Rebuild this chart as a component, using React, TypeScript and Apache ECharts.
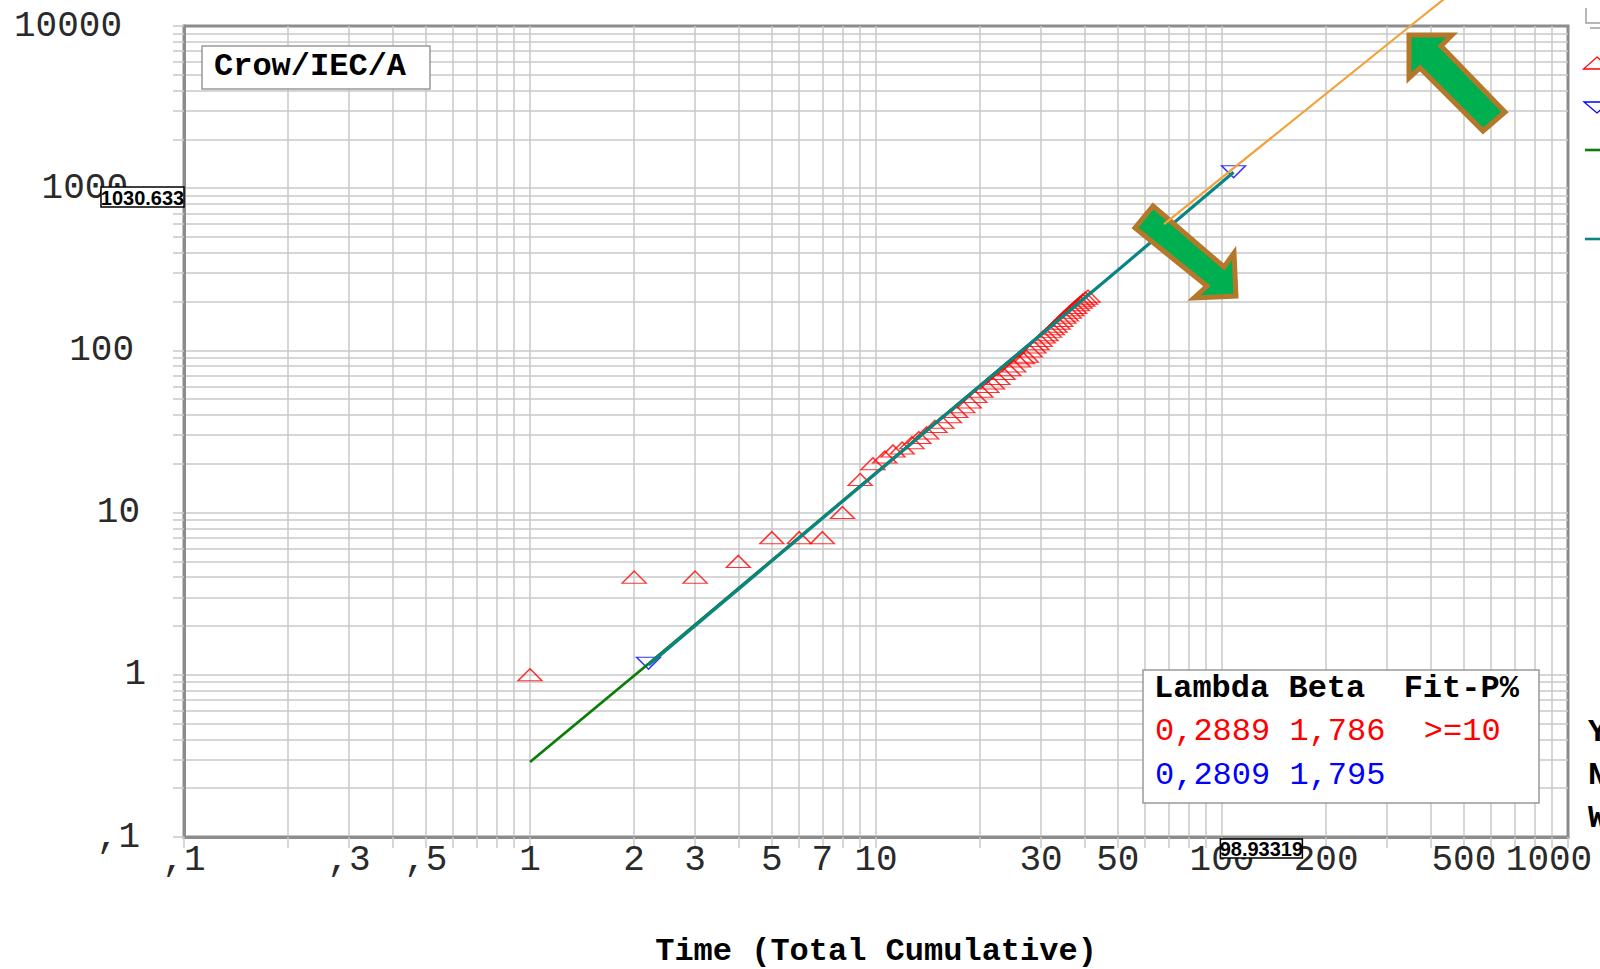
import React, { useEffect, useRef } from 'react';
import * as echarts from 'echarts';

// ---------- axis / tick data ----------
const xGridValues = [0.1, 0.2, 0.3, 0.4, 0.5, 0.6, 0.7, 0.8, 0.9, 1, 2, 3, 4, 5, 6, 7, 8, 9, 10, 20, 30, 40, 50, 60, 70, 80, 90, 100, 200, 300, 400, 500, 600, 700, 800, 900, 1000];
const yGridValues = [0.1, 0.2, 0.3, 0.4, 0.5, 0.6, 0.7, 0.8, 0.9, 1, 2, 3, 4, 5, 6, 7, 8, 9, 10, 20, 30, 40, 50, 60, 70, 80, 90, 100, 200, 300, 400, 500, 600, 700, 800, 900, 1000, 2000, 3000, 4000, 5000, 6000, 7000, 8000, 9000, 10000];
const xLabelValues = [0.1, 0.3, 0.5, 1, 2, 3, 5, 7, 10, 30, 50, 100, 200, 500, 1000];
const xLabelTexts = [',1', ',3', ',5', '1', '2', '3', '5', '7', '10', '30', '50', '100', '200', '500', '1000'];
const yLabelValues = [0.1, 1, 10, 100, 1000, 10000];
const yLabelTexts = [',1', '1', '10', '100', '1000', '10000'];
const xAxisTitle = 'Time (Total Cumulative)';

// ---------- series data ----------
const redTimes = [1, 2, 3, 4, 5, 6, 7, 8, 9.0, 9.8, 10.6, 11.2, 11.9, 12.7, 13.3, 14.0, 14.8, 15.5, 16.3, 17.0, 17.8, 18.6, 19.3, 20.1, 20.9, 21.7, 22.5, 23.3, 24.2, 25.0, 25.8, 26.5, 27.2, 27.9, 28.6, 29.2, 29.8, 30.4, 31.0, 31.7, 32.3, 32.9, 33.6, 34.2, 34.9, 35.5, 36.2, 36.8, 37.5, 38.2, 38.9, 39.6, 40.3, 41.0];
const redCounts = [1, 4, 4, 5, 7, 7, 7, 10, 16, 20, 22, 24, 25, 27, 29, 31, 34, 36, 39, 42, 45, 48, 52, 56, 60, 63, 67, 72, 76, 80, 86, 90, 92, 99, 105, 110, 115, 121, 125, 131, 136, 141, 147, 153, 160, 165, 172, 178, 184, 191, 198, 204, 210, 216];
const blueTimes = [2.2, 108];
const blueCounts = [1.18, 1265];
const greenTimes = [1, 2.2, 10, 42];
const greenCounts = [0.29, 1.17, 17.6, 230];
const tealTimes = [2.2, 10, 50, 108];
const tealCounts = [1.15, 17.5, 312, 1255];
const orangeTimes = [68, 350, 600];
const orangeCounts = [600, 10000, 25000];
const readoutX = 98.93319;
const readoutY = 1030.633;

// ---------- texts ----------
const boxTitle = 'Crow/IEC/A';
const statsHeader = 'Lambda Beta  Fit-P%';
const statsRed = '0,2889 1,786  >=10';
const statsBlue = '0,2809 1,795';
const cutTexts = ['Y', 'N', 'W'];

const zip = (a: number[], b: number[]) => a.map((v, i) => [v, b[i]]);
const findLabel = (vals: number[], texts: string[], v: number) => {
  const i = vals.findIndex((u) => Math.abs(Math.log10(u) - Math.log10(v)) < 1e-6);
  return i >= 0 ? texts[i] : '';
};

const MONO = '"Liberation Mono", "DejaVu Sans Mono", monospace';
const GRID_COLOR = '#c8c8c8';
const BORDER_COLOR = '#8c8c8c';
const LABEL_COLOR = '#2a2a2a';

const labelRich = (pads: number[][]) => {
  const rich: any = {};
  pads.forEach((p, i) => {
    rich['s' + i] = { fontFamily: MONO, fontSize: 36, color: LABEL_COLOR, padding: p };
  });
  return rich;
};

export default function App() {
  const ref = useRef<HTMLDivElement>(null);
  useEffect(() => {
    if (!ref.current) return;
    const chart = echarts.init(ref.current, null, { renderer: 'svg' });
    const arrowStyle = { fill: '#00b050', stroke: '#b5782b', lineWidth: 5, lineJoin: 'miter' };
    const option: any = {
      animation: false,
      backgroundColor: '#ffffff',
      grid: {
        left: 184, top: 26, width: 1384, height: 811,
        show: true, borderColor: BORDER_COLOR, borderWidth: 3,
        backgroundColor: 'rgba(0,0,0,0)', containLabel: false, outerBoundsMode: 'none',
      },
      xAxis: {
        type: 'log', logBase: 10, min: 0.1, max: 1000,
        axisLine: { show: true, onZero: false, lineStyle: { color: BORDER_COLOR, width: 3 } },
        axisTick: { show: true, inside: false, length: 11, customValues: xGridValues, lineStyle: { color: GRID_COLOR, width: 1.5 } },
        axisLabel: {
          show: true, customValues: xLabelValues,
          formatter: (v: number) => {
            const t = findLabel(xLabelValues, xLabelTexts, v);
            return v >= 999 ? `{s1|${t}}` : `{s0|${t}}`;
          },
          rich: labelRich([[0, 0, 0, 0], [0, 38, 0, 0]]),
          margin: 5, fontFamily: MONO, fontSize: 36, color: LABEL_COLOR,
        },
        splitLine: { show: true, showMinLine: false, showMaxLine: false, lineStyle: { color: GRID_COLOR, width: 1.5 } },
        name: xAxisTitle, nameLocation: 'middle', nameGap: 98,
        nameTextStyle: { fontFamily: MONO, fontWeight: 'bold', fontSize: 32, color: '#000' },
      },
      yAxis: {
        type: 'log', logBase: 10, min: 0.1, max: 10000,
        axisLine: { show: true, onZero: false, lineStyle: { color: BORDER_COLOR, width: 3 } },
        axisTick: { show: true, inside: false, length: 11, customValues: yGridValues, lineStyle: { color: GRID_COLOR, width: 1.5 } },
        axisLabel: {
          show: true, customValues: yLabelValues,
          formatter: (v: number) => {
            const t = findLabel(yLabelValues, yLabelTexts, v);
            return `{s${t.length - 1}|${t}}`;
          },
          rich: labelRich([[0, 0, 0, 0], [0, 6, 0, 0], [0, 12, 0, 0], [0, 18, 0, 0], [0, 24, 0, 0]]),
          margin: 38, fontFamily: MONO, fontSize: 36, color: LABEL_COLOR,
        },
        splitLine: { show: true, showMinLine: false, showMaxLine: false, lineStyle: { color: GRID_COLOR, width: 1.5 } },
      },
      series: [
        {
          type: 'scatter', name: 'Observed', data: zip(redTimes, redCounts), z: 2,
          symbol: 'triangle', symbolSize: [24, 12],
          itemStyle: { color: 'rgba(0,0,0,0)', borderColor: '#ff0000', borderWidth: 1.4 },
        },
        {
          type: 'scatter', name: 'Expected', data: zip(blueTimes, blueCounts), z: 2,
          symbol: 'triangle', symbolRotate: 180, symbolSize: [24, 12],
          itemStyle: { color: 'rgba(0,0,0,0)', borderColor: '#0000ff', borderWidth: 1.4 },
        },
        {
          type: 'line', name: 'Fit observed', data: zip(greenTimes, greenCounts), z: 3,
          showSymbol: false, lineStyle: { color: '#0b7d0b', width: 2.8 },
        },
        {
          type: 'line', name: 'Fit expected', data: zip(tealTimes, tealCounts), z: 4,
          showSymbol: false, lineStyle: { color: '#0b8484', width: 3.2 },
        },
        {
          type: 'line', name: 'Projection', data: zip(orangeTimes, orangeCounts), z: 60, clip: false,
          showSymbol: false, lineStyle: { color: '#f2a23a', width: 2.2 },
        },
        {
          type: 'custom', name: 'Readout', data: [[readoutX, readoutY]], z: 110, clip: false,
          encode: { x: 0, y: 1 },
          renderItem: (params: any, api: any) => {
            const xv = api.value(0);
            const yv = api.value(1);
            const p = api.coord([xv, yv]);
            const cs = params.coordSys;
            const bottom = cs.y + cs.height;
            const font = 'bold 20px "Liberation Sans Narrow", "Liberation Sans", sans-serif';
            return {
              type: 'group',
              children: [
                { type: 'rect', shape: { x: cs.x - 83, y: p[1] + 1, width: 83, height: 20 }, style: { fill: '#fff', stroke: '#000', lineWidth: 1.5 } },
                { type: 'text', x: cs.x - 41.5, y: p[1] + 11.5, style: { text: String(yv), fill: '#000', font, align: 'center', verticalAlign: 'middle', textAlign: 'center', textVerticalAlign: 'middle' } },
                { type: 'rect', shape: { x: p[0], y: bottom + 2, width: 82, height: 19 }, style: { fill: '#fff', stroke: '#000', lineWidth: 1.5 } },
                { type: 'text', x: p[0] + 41, y: bottom + 12, style: { text: String(xv), fill: '#000', font, align: 'center', verticalAlign: 'middle', textAlign: 'center', textVerticalAlign: 'middle' } },
              ],
            };
          },
        },
      ],
      graphic: {
        elements: [
          // title box
          { type: 'rect', z: 100, shape: { x: 202, y: 46, width: 228, height: 43 }, style: { fill: '#fff', stroke: '#999', lineWidth: 1.5 } },
          { type: 'text', z: 101, x: 214, y: 66, style: { text: boxTitle, font: `bold 32px ${MONO}`, fill: '#000', verticalAlign: 'middle', textVerticalAlign: 'middle' } },
          // stats box
          { type: 'rect', z: 100, shape: { x: 1143, y: 670, width: 396, height: 133 }, style: { fill: '#fff', stroke: '#999', lineWidth: 1.5 } },
          { type: 'text', z: 101, x: 1154, y: 688, style: { text: statsHeader, font: `bold 32px ${MONO}`, fill: '#000', verticalAlign: 'middle', textVerticalAlign: 'middle' } },
          { type: 'text', z: 101, x: 1155, y: 731, style: { text: statsRed, font: `32px ${MONO}`, fill: '#ff0000', verticalAlign: 'middle', textVerticalAlign: 'middle' } },
          { type: 'text', z: 101, x: 1155, y: 775, style: { text: statsBlue, font: `32px ${MONO}`, fill: '#0000ff', verticalAlign: 'middle', textVerticalAlign: 'middle' } },
          // arrows
          { type: 'polygon', z: 50, shape: { points: [[1153, 206], [1224, 267], [1234, 253], [1236, 296], [1194, 298], [1207, 286], [1135, 228]] }, style: arrowStyle },
          { type: 'polygon', z: 50, shape: { points: [[1409, 35], [1452, 35], [1441, 46], [1505, 112], [1483, 131], [1420, 68], [1409, 78]] }, style: arrowStyle },
          // right-edge legend (cut off)
          { type: 'polyline', z: 100, shape: { points: [[1586, 8], [1586, 23], [1600, 23]] }, style: { stroke: '#a0a0a0', lineWidth: 1.5, fill: 'none' } },
          { type: 'line', z: 100, shape: { x1: 1590, y1: 28, x2: 1600, y2: 28 }, style: { stroke: '#a0a0a0', lineWidth: 1.5 } },
          { type: 'polygon', z: 100, shape: { points: [[1597, 57], [1610.5, 69], [1583.5, 69]] }, style: { fill: 'rgba(0,0,0,0)', stroke: '#ff0000', lineWidth: 1.3 } },
          { type: 'polygon', z: 100, shape: { points: [[1584, 102], [1610, 102], [1597, 113]] }, style: { fill: 'rgba(0,0,0,0)', stroke: '#0000ff', lineWidth: 1.3 } },
          { type: 'line', z: 100, shape: { x1: 1585, y1: 150, x2: 1600, y2: 150 }, style: { stroke: '#0b7d0b', lineWidth: 2.6 } },
          { type: 'line', z: 100, shape: { x1: 1585, y1: 239, x2: 1600, y2: 239 }, style: { stroke: '#0b8484', lineWidth: 2.6 } },
          // cut-off texts at right
          ...cutTexts.map((t, i) => ({
            type: 'text', z: 100, x: 1588, y: [732, 775, 818][i],
            style: { text: t, font: `bold 32px ${MONO}`, fill: '#000', verticalAlign: 'middle', textVerticalAlign: 'middle' },
          })),
        ],
      },
    };
    chart.setOption(option);
    return () => chart.dispose();
  }, []);
  return <div ref={ref} style={{ position: 'absolute', left: 0, top: 0, width: 1600, height: 969 }} />;
}
